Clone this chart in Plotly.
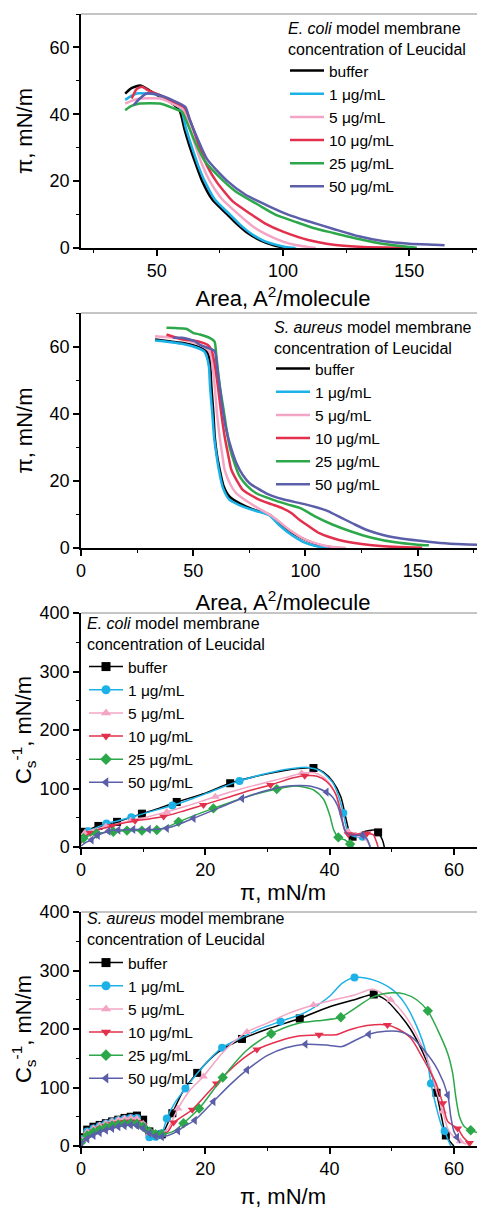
import plotly.graph_objects as go

FONT = "Liberation Sans, Arial, sans-serif"

names = ["buffer", "1 μg/mL", "5 μg/mL", "10 μg/mL", "25 μg/mL", "50 μg/mL"]
colors = ["#000000", "#1cb1e7", "#f4a4c4", "#e3304d", "#2ca84a", "#5b5ea8"]
symbols = ["square", "circle", "triangle-up", "triangle-down", "diamond", "triangle-left"]

# ---------- Panel 1: E. coli isotherms (area, pi) ----------
ec_iso_buffer_area = [37.5, 40, 43.4, 47, 50, 55, 59, 61, 63, 65.5, 68, 72, 78, 82, 86, 91, 96, 100, 102]
ec_iso_buffer_pi = [46.2, 47.8, 48.6, 47.2, 45.8, 43.8, 41.2, 35.5, 30.5, 25, 20, 14.5, 10, 7, 4.5, 2.3, 0.9, 0.2, 0]
ec_iso_1_area = [37.5, 40, 42, 46, 50, 55, 59.5, 61.5, 64, 66.5, 69, 73, 79, 83, 87, 92, 97, 101, 105]
ec_iso_1_pi = [44.3, 45.5, 46.2, 46.2, 45.9, 44, 41.7, 36, 30, 24.5, 20, 14.5, 10, 7, 4.5, 2.3, 1.0, 0.3, 0]
ec_iso_5_area = [37.5, 40, 43.4, 47, 51.3, 56, 60.5, 63, 66, 68.5, 71, 76, 82.5, 88, 93, 100, 105, 110, 113]
ec_iso_5_pi = [43.2, 44, 44.7, 44.8, 44.7, 43.3, 41.4, 36, 29, 24, 20, 14.5, 10, 6.5, 4.2, 1.9, 0.9, 0.3, 0]
ec_iso_10_area = [40.1, 42, 44.1, 47, 51.3, 56, 61, 64, 67, 70, 73.5, 80, 87.5, 93, 100, 110, 120, 130, 140, 150]
ec_iso_10_pi = [44.7, 47.5, 48.2, 47, 45.7, 44, 42, 36.5, 30, 24.5, 20, 14, 10, 7.3, 4.9, 2.4, 1.0, 0.4, 0.15, 0]
ec_iso_25_area = [37.5, 40, 43.4, 47, 51.3, 56, 60, 62, 65, 69, 76.5, 82, 90, 97, 105, 112, 120, 130, 140, 150, 153]
ec_iso_25_pi = [41.2, 42.5, 43.2, 43.3, 43.2, 42, 40.7, 37.5, 32, 26, 20, 16.5, 13, 10, 7.8, 6, 4.5, 2.7, 1.2, 0.3, 0.1]
ec_iso_50_area = [40.8, 43, 46, 51.3, 56, 61.3, 63, 66, 70, 78, 85, 93, 102, 110, 120, 130, 140, 150, 160, 164]
ec_iso_50_pi = [42.7, 44.5, 46.2, 45.7, 44.3, 42.2, 38.5, 33, 26.5, 20, 16, 13, 10, 8, 5.7, 3.5, 2.0, 1.3, 0.95, 0.8]

# ---------- Panel 2: S. aureus isotherms (area, pi) ----------
sa_iso_buffer_area = [33, 40, 46, 51.4, 55, 56.6, 57.5, 58.1, 59, 59.6, 60.5, 61.8, 63.5, 66.2, 70.7, 76.6, 81, 84, 88.4, 94.4, 101.8, 108, 112, 115]
sa_iso_buffer_pi = [62.1, 61.5, 61, 60.1, 59, 58, 55, 48, 40, 33, 28, 23.3, 18.5, 15.3, 13.3, 11.5, 10.6, 9.9, 7.4, 4.4, 1.9, 0.6, 0.2, 0]
sa_iso_1_area = [33, 40, 46, 51, 55, 56, 57, 57.5, 58.5, 59.3, 60.3, 61.5, 63.2, 66, 70.5, 76.6, 81, 84, 88, 94, 100, 105, 110]
sa_iso_1_pi = [61.8, 61.3, 60.7, 59.8, 58.5, 57, 54, 48, 40, 33, 28, 23, 18, 14.5, 12.8, 11.3, 10.5, 9.7, 7, 3.8, 1.5, 0.5, 0]
sa_iso_5_area = [33, 40, 48.4, 54, 56.6, 58, 59, 59.6, 60.6, 61.8, 63, 64, 66.5, 69.2, 76.6, 85.5, 92.9, 100.3, 105, 109.2, 114, 118]
sa_iso_5_pi = [63.1, 62.7, 61.6, 60.2, 59.1, 57, 52, 48, 40, 33, 27.5, 23.3, 19, 16.3, 12.8, 9.3, 5.4, 2.4, 1.3, 0.6, 0.2, 0]
sa_iso_10_area = [38.1, 45.5, 50, 54.4, 56.5, 58.1, 59.5, 61, 62.5, 64, 65.5, 67, 69.5, 72.1, 79.6, 85, 89.9, 94, 97.3, 101, 106.2, 115, 125, 135, 145, 152]
sa_iso_10_pi = [63.6, 62.1, 61.8, 61.1, 60.5, 59.1, 55, 48.1, 40, 33.2, 28, 23.3, 20, 17.3, 14.3, 13, 11.8, 10.3, 8.4, 6.7, 4.4, 2.4, 1.2, 0.5, 0.2, 0.1]
sa_iso_25_area = [38.1, 42, 46.9, 49.9, 52.9, 57.3, 59.5, 60.2, 61, 62, 63.3, 64.7, 66.2, 68.5, 70.7, 74, 78.1, 85, 92, 98, 104, 112, 120, 130, 140, 150, 155]
sa_iso_25_pi = [65.6, 65.5, 65.3, 64.1, 63.6, 62.6, 61.5, 58, 53, 47.5, 42.2, 36, 30.2, 25, 21.3, 18.5, 16.3, 14.5, 13, 11.8, 9.5, 7, 5, 3, 1.7, 1.0, 0.8]
sa_iso_50_area = [41, 45, 48.4, 50.7, 53, 56.6, 59.6, 60.6, 61.8, 63.2, 64.7, 67, 69.2, 72, 75.1, 82.5, 90, 98, 104, 110, 116, 122, 128, 135, 142, 150, 160, 170, 180]
sa_iso_50_pi = [62.6, 62.6, 62.1, 61.6, 60.5, 59.6, 58.6, 54, 48.1, 41, 35.2, 29.5, 25.3, 21.8, 19.3, 16.3, 14.5, 13.3, 12.3, 11, 9, 7, 5.2, 3.8, 2.9, 2.2, 1.5, 1.1, 0.9]

# ---------- Panel 3: E. coli compressibility modulus (pi, Cs^-1) ----------
ec_cs_buffer_pi = [0, 0.4, 1.5, 2.8, 4.2, 5.8, 7.8, 9.8, 12.5, 15.4, 20, 24, 30, 35, 37.4, 39, 40.5, 41.8, 42.6, 43.2, 43.7, 45.5, 47.2, 47.8, 48.5, 48.8]
ec_cs_buffer_c = [10, 26, 31, 36, 39, 43, 50, 57, 66, 77, 92, 109, 125, 134, 135, 128, 112, 86, 50, 25, 17.6, 26, 29, 25, 12, 0]
ec_cs_buffer_marks = [1, 3, 5, 7, 9, 11, 14, 20, 23]
ec_cs_1_pi = [0, 0.5, 1.2, 2.5, 4.1, 6, 8.1, 11, 14.7, 18, 21, 25.5, 30, 34, 36.5, 38.5, 40.5, 41.5, 42.2, 42.8, 43.5, 44.5, 45.3, 46, 46.6]
ec_cs_1_c = [8, 20, 27, 33, 40, 45, 51, 60, 71, 83, 95, 113, 126, 134, 136, 130, 110, 85, 58, 30, 20, 17, 17.6, 12, 0]
ec_cs_1_marks = [2, 4, 6, 8, 11, 18, 22]
ec_cs_5_pi = [0, 0.6, 2, 4, 6, 8, 10.5, 13.8, 17, 21.6, 26, 30, 33, 35.5, 37.5, 39.5, 41, 41.8, 42.5, 43, 44, 45, 46, 46.5]
ec_cs_5_c = [10, 24, 30, 35, 40, 45, 51, 60, 70, 86, 100, 111, 119, 126, 127, 115, 90, 55, 30, 26, 24, 20, 10, 0]
ec_cs_5_marks = [1, 3, 5, 7, 9, 13, 19, 21]
ec_cs_10_pi = [0, 0.5, 1.5, 3, 5, 6.5, 8.7, 11, 13.3, 16, 19.7, 24, 27, 30.5, 34, 36, 38, 39.5, 41, 41.8, 42.4, 43, 44.5, 46, 47, 47.5, 47.8]
ec_cs_10_c = [6, 16, 24, 30, 36, 40, 45, 48, 52, 60, 72, 86, 96, 106, 118, 122, 121, 112, 90, 60, 30, 22, 22, 23, 21, 10, 0]
ec_cs_10_marks = [2, 4, 6, 8, 10, 13, 15, 21, 23]
ec_cs_25_pi = [0, 0.4, 1.2, 2.5, 3.8, 5.2, 7.4, 9.8, 12.2, 14, 15.7, 18.5, 21.3, 25, 28, 31.5, 34, 36, 37.5, 39, 40, 40.7, 41.4, 42.5, 43.3, 43.8]
ec_cs_25_c = [8, 15, 19, 23, 25, 26, 28, 28, 29, 35, 43, 55, 66, 80, 90, 99, 104, 102, 97, 82, 55, 28, 16.5, 12, 5, 0]
ec_cs_25_marks = [1, 3, 5, 6, 7, 8, 10, 12, 15, 22, 24]
ec_cs_50_pi = [0, 0.8, 1.7, 2.7, 4.4, 6, 8.4, 10.9, 13.8, 16, 18.1, 22, 25.9, 30, 33, 35, 37, 39.5, 40.5, 41.3, 42, 42.6, 43.5, 44.5, 45.3, 46, 46.5]
ec_cs_50_c = [2, 8, 12, 20, 27, 29, 30, 30, 32, 40, 49, 66, 83, 97, 104, 105, 104, 94, 85, 70, 45, 25, 20, 20, 20, 14, 0]
ec_cs_50_marks = [2, 3, 4, 5, 6, 7, 8, 10, 12, 17, 24]

# ---------- Panel 4: S. aureus compressibility modulus (pi, Cs^-1) ----------
sa_cs_buffer_pi = [0, 1, 2, 3, 4, 5, 6, 7, 8, 9, 10, 11, 12, 13, 14, 14.7, 16.5, 18.7, 22, 25.9, 30, 35.2, 40, 44, 47.1, 49, 51, 53, 55, 56.5, 57.2, 58, 58.7, 59.5, 60]
sa_cs_buffer_c = [15, 28, 33, 36, 39, 42, 45, 48, 50, 52, 45, 25, 19, 20, 40, 56, 95, 125, 160, 183, 200, 218, 238, 250, 259, 250, 228, 200, 160, 120, 91, 50, 18, 6, 0]
sa_cs_buffer_marks = list(range(14)) + [15, 17, 19, 21, 24, 30, 32]
sa_cs_1_pi = [0, 1, 2, 3, 4, 5, 6, 7, 8, 9, 10, 11, 12, 13, 13.8, 15, 16.8, 20, 22.7, 26, 29, 32.1, 36, 40, 42, 44, 47, 50, 52, 54, 55.5, 56.3, 57.2, 58, 58.5, 59, 59.5]
sa_cs_1_c = [12, 25, 30, 34, 38, 41, 44, 46, 48, 48, 35, 15, 16, 22, 47, 72, 98.5, 140, 168, 186, 201, 213, 228, 256, 278, 288, 284, 268, 245, 205, 160, 107, 65, 35, 25.6, 12, 0]
sa_cs_1_marks = list(range(14)) + [14, 16, 18, 21, 25, 31, 34]
sa_cs_5_pi = [0, 1, 2, 3, 4, 5, 6, 7, 8, 9, 10, 11, 12, 13, 14, 15.6, 17.5, 19.7, 23, 26.7, 30, 33, 37.4, 40, 44, 47, 49.8, 52, 54, 56, 57.3, 58.2, 59, 60, 61, 62]
sa_cs_5_c = [10, 24, 30, 35, 39, 42, 45, 47, 48, 47, 38, 22, 20, 22, 30, 64, 95, 119, 162, 195, 210, 225, 241, 248, 258, 268, 250, 225, 190, 140, 90, 59, 30, 15, 8, 3]
sa_cs_5_marks = list(range(14)) + [15, 17, 19, 22, 26, 31, 34]
sa_cs_10_pi = [0, 1, 2, 3, 4, 5, 6, 7, 8, 9, 10, 11, 12, 13, 14, 14.9, 16.5, 17.9, 21.8, 25, 28.3, 32, 35, 38.3, 41, 43, 46, 49.3, 51, 53, 55, 57, 58.2, 59, 60.6, 61.5, 62.5]
sa_cs_10_c = [5, 18, 25, 30, 34, 37, 39, 41, 42, 41, 35, 25, 20, 20, 25, 40, 52, 62, 107, 140, 165, 180, 188, 190, 190, 198, 206, 207, 200, 185, 150, 110, 73, 42, 30, 15, 5]
sa_cs_10_marks = list(range(14)) + [15, 17, 18, 20, 23, 27, 32, 34, 36]
sa_cs_25_pi = [0, 1, 2, 3, 4, 5, 6, 7, 8, 9, 10, 11, 12, 13, 14, 15, 16.5, 19, 22.8, 26.5, 30.6, 35, 38, 41.8, 44, 47, 50, 52, 54, 55.8, 57.4, 59, 59.8, 60.3, 60.9, 61.7, 62.7, 64.5]
sa_cs_25_c = [6, 18, 24, 28, 32, 35, 37, 38, 39, 38, 33, 25, 20, 20, 22, 26, 39, 64, 117, 162, 192, 210, 214, 220, 235, 255, 262, 260, 250, 231, 198, 158, 124, 84, 50, 33, 27, 20.5]
sa_cs_25_marks = list(range(14)) + [16, 17, 18, 20, 23, 29, 36, 37]
sa_cs_50_pi = [0, 1, 2, 3, 4, 5, 6, 7, 8, 9, 10, 11, 12, 13, 14, 15.6, 16.5, 18.3, 21.3, 24, 26.7, 30, 33, 36.1, 40, 42, 44, 46.3, 49, 51.5, 53, 55.2, 57.4, 59, 59.5, 60, 60.5, 61]
sa_cs_50_c = [3, 12, 18, 23, 27, 30, 33, 35, 36, 35, 30, 22, 17, 16, 18, 26, 33, 44, 76, 105, 130, 155, 168, 174, 172, 170, 180, 191, 196, 195, 188, 164, 130, 87, 50, 25, 15, 5]
sa_cs_50_marks = list(range(14)) + [15, 17, 18, 20, 23, 27, 33, 36]

ec_iso = [(ec_iso_buffer_area, ec_iso_buffer_pi), (ec_iso_1_area, ec_iso_1_pi), (ec_iso_5_area, ec_iso_5_pi),
          (ec_iso_10_area, ec_iso_10_pi), (ec_iso_25_area, ec_iso_25_pi), (ec_iso_50_area, ec_iso_50_pi)]
sa_iso = [(sa_iso_buffer_area, sa_iso_buffer_pi), (sa_iso_1_area, sa_iso_1_pi), (sa_iso_5_area, sa_iso_5_pi),
          (sa_iso_10_area, sa_iso_10_pi), (sa_iso_25_area, sa_iso_25_pi), (sa_iso_50_area, sa_iso_50_pi)]
ec_cs = [(ec_cs_buffer_pi, ec_cs_buffer_c, ec_cs_buffer_marks), (ec_cs_1_pi, ec_cs_1_c, ec_cs_1_marks),
         (ec_cs_5_pi, ec_cs_5_c, ec_cs_5_marks), (ec_cs_10_pi, ec_cs_10_c, ec_cs_10_marks),
         (ec_cs_25_pi, ec_cs_25_c, ec_cs_25_marks), (ec_cs_50_pi, ec_cs_50_c, ec_cs_50_marks)]
sa_cs = [(sa_cs_buffer_pi, sa_cs_buffer_c, sa_cs_buffer_marks), (sa_cs_1_pi, sa_cs_1_c, sa_cs_1_marks),
         (sa_cs_5_pi, sa_cs_5_c, sa_cs_5_marks), (sa_cs_10_pi, sa_cs_10_c, sa_cs_10_marks),
         (sa_cs_25_pi, sa_cs_25_c, sa_cs_25_marks), (sa_cs_50_pi, sa_cs_50_c, sa_cs_50_marks)]

fig = go.Figure()

for data, xa, ya, leg in [(ec_iso, "x", "y", "legend"), (sa_iso, "x2", "y2", "legend2")]:
    for i, (xs, ys) in enumerate(data):
        fig.add_trace(go.Scatter(
            x=xs, y=ys, mode="lines", name=names[i], xaxis=xa, yaxis=ya, legend=leg,
            line=dict(color=colors[i], width=2.5, shape="spline", smoothing=0.6),
        ))

for data, xa, ya, leg in [(ec_cs, "x3", "y3", "legend3"), (sa_cs, "x4", "y4", "legend4")]:
    for i, (xs, ys, marks) in enumerate(data):
        fig.add_trace(go.Scatter(
            x=xs, y=ys, mode="lines", showlegend=False, xaxis=xa, yaxis=ya,
            line=dict(color=colors[i], width=1.5, shape="spline", smoothing=0.8),
            hoverinfo="skip",
        ))
        fig.add_trace(go.Scatter(
            x=[xs[k] for k in marks], y=[ys[k] for k in marks], mode="markers", showlegend=False,
            xaxis=xa, yaxis=ya,
            marker=dict(color=colors[i], symbol=symbols[i], size=8, line=dict(width=0)),
        ))
        fig.add_trace(go.Scatter(
            x=[None], y=[None], mode="lines+markers", name=names[i], xaxis=xa, yaxis=ya, legend=leg,
            line=dict(color=colors[i], width=1.5),
            marker=dict(color=colors[i], symbol=symbols[i], size=9, line=dict(width=0)),
        ))

# page body adds an 8 px offset; figure sized so it fits the window exactly
OFF = 8.0
W = 485.0 - OFF
H = 1209.0 - OFF


def px_x(x):
    return (x - OFF) / W


def px_y(y):
    return 1 - (y - OFF) / H


def ydom(top, bottom):
    return [px_y(bottom), px_y(top)]


xdom = [px_x(81), 1.0]

tickfont = dict(family=FONT, size=18, color="black")
titlefont = dict(family=FONT, size=22, color="black")


def axis(rng, dtick, minor, title, standoff, anchor, dom):
    return dict(domain=dom, range=rng, anchor=anchor, showline=True, linecolor="black", linewidth=1.5,
                ticks="outside", ticklen=6, tickwidth=1.5, tickcolor="black", tick0=0, dtick=dtick,
                showgrid=False, zeroline=False, tickfont=tickfont, automargin=False,
                minor=dict(ticks="outside", ticklen=3.5, tickwidth=1, tickcolor="black", dtick=minor, tick0=0,
                           showgrid=False),
                title=dict(text=title, font=titlefont, standoff=standoff))


area_title = "Area, A<sup>2</sup>/molecule"
pi_title = "π, mN/m"
cs_title = "C<sub>s</sub><sup>-1</sup>, mN/m"

legfont = dict(family=FONT, size=15.5, color="black")
headfont = dict(family=FONT, size=16, color="black")


def leg(x_px, y_px):
    return dict(x=px_x(x_px), y=px_y(y_px), xanchor="left", yanchor="top", bgcolor="rgba(0,0,0,0)",
                borderwidth=0, font=legfont, itemwidth=34)


def head(x_px, y_px, text):
    return dict(x=px_x(x_px), y=px_y(y_px), xref="paper", yref="paper", xanchor="left", yanchor="top",
                align="left", showarrow=False, text=text, font=headfont, borderpad=0)


ec_head = "<i>E. coli</i> model membrane<br>concentration of Leucidal"
sa_head = "<i>S. aureus</i> model membrane<br>concentration of Leucidal"

fig.update_layout(
    width=W, height=H, margin=dict(l=0, r=0, t=0, b=0, autoexpand=False),
    paper_bgcolor="white", plot_bgcolor="white",
    font=dict(family=FONT, color="black"),
    xaxis=axis([20, 180], 50, 25, area_title, 10, "y", xdom),
    yaxis=axis([0, 70], 20, 10, pi_title, 11, "x", ydom(14, 248)),
    xaxis2=axis([0, 180], 50, 25, area_title, 14, "y2", xdom),
    yaxis2=axis([0, 70], 20, 10, pi_title, 11, "x2", ydom(313, 548)),
    xaxis3=axis([0, 65], 20, 10, pi_title, 3, "y3", xdom),
    yaxis3=axis([0, 400], 100, 50, cs_title, 4, "x3", ydom(613, 847)),
    xaxis4=axis([0, 65], 20, 10, pi_title, 12, "y4", xdom),
    yaxis4=axis([0, 400], 100, 50, cs_title, 4, "x4", ydom(912, 1146)),
    legend=leg(285, 54),
    legend2=leg(271, 352),
    legend3=leg(84, 650),
    legend4=leg(84, 946),
    annotations=[head(287, 19, ec_head), head(273, 318, sa_head), head(86, 614, ec_head), head(86, 909, sa_head)],
    showlegend=True,
)

shapes = []
for xr, yr in [("x", "y"), ("x2", "y2"), ("x3", "y3"), ("x4", "y4")]:
    shapes.append(dict(type="line", xref=f"{xr} domain", yref=f"{yr} domain", x0=0, x1=1, y0=1, y1=1,
                       line=dict(color="#8a8a8a", width=1)))
fig.update_layout(shapes=shapes)

fig.write_html("out.html")
